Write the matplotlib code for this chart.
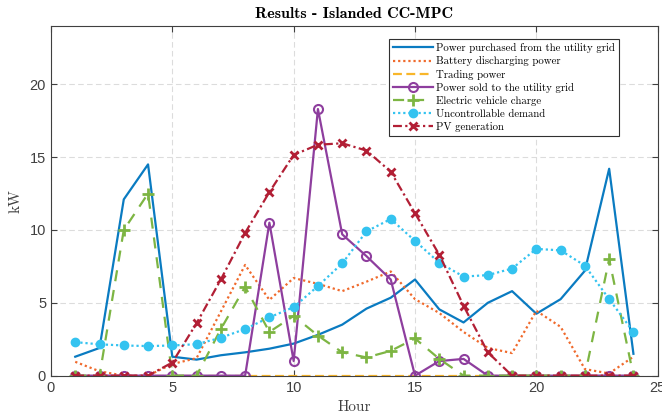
import matplotlib
matplotlib.use("Agg")
import matplotlib.pyplot as plt
import numpy as np

# heures 1..24
hours = list(range(1, 25))

grid_buy = [1.3, 1.9, 12.1, 14.5, 1.3, 1.1, 1.4, 1.6, 1.85, 2.2, 2.8, 3.5,
            4.6, 5.35, 6.6, 4.55, 3.65, 5.0, 5.8, 4.25, 5.25, 7.2, 14.2, 1.5]
battery = [0.95, 0.3, 0.0, 0.0, 0.8, 1.2, 4.4, 7.6, 5.2, 6.7, 6.3, 5.8,
           6.45, 7.15, 5.25, 4.3, 3.0, 1.9, 1.55, 4.45, 3.35, 0.45, 0.15, 1.3]
trading = [0.0] * 24
grid_sell = [0, 0, 0, 0, 0, 0, 0, 0, 10.5, 1.0, 18.3, 9.7,
             8.2, 6.6, 0, 1.0, 1.15, 0, 0, 0, 0, 0, 0, 0]
ev_charge = [0, 0, 10.0, 12.5, 0, 0, 3.2, 6.1, 3.0, 4.1, 2.75, 1.6,
             1.25, 1.7, 2.55, 1.15, 0, 0, 0, 0, 0, 0, 8.0, 0]
demand = [2.3, 2.15, 2.07, 2.03, 2.07, 2.16, 2.6, 3.2, 4.0, 4.7, 6.15, 7.7,
          9.9, 10.75, 9.25, 7.75, 6.8, 6.9, 7.35, 8.7, 8.6, 7.55, 5.25, 3.0]
pv = [0, 0, 0, 0, 0.9, 3.6, 6.6, 9.8, 12.6, 15.15, 15.85, 15.95,
      15.45, 14.0, 11.15, 8.3, 4.8, 1.6, 0, 0, 0, 0, 0, 0]

fig = plt.figure(figsize=(6.62, 4.16), dpi=100)
ax = fig.add_axes([0.077, 0.097, 0.9165, 0.8405])

lw = 1.6
ax.plot(hours, grid_buy, color="#0A7BC1", lw=lw, label="Power purchased from the utility grid")
ax.plot(hours, battery, color="#F06A2C", lw=lw, linestyle=(0, (1, 1.3)), label="Battery discharging power")
ax.plot(hours, trading, color="#F8B62A", lw=lw, linestyle=(0, (4, 2)), label="Trading power")
ax.plot(hours, grid_sell, color="#8E3E9E", lw=lw, marker="o", markersize=6.5,
        markerfacecolor="none", markeredgewidth=1.5, label="Power sold to the utility grid")
ax.plot(hours, ev_charge, color="#7DB543", lw=lw, linestyle=(0, (5, 4)), marker="+",
        markersize=8, markeredgewidth=2, label="Electric vehicle charge")
ax.plot(hours, demand, color="#34C3F0", lw=lw, linestyle=(0, (1, 1.3)), marker="o",
        markersize=6, label="Uncontrollable demand")
ax.plot(hours, pv, color="#B21F35", lw=lw, linestyle=(0, (4, 1.5, 1, 1.5)), marker="x",
        markersize=6, markeredgewidth=2, label="PV generation")

ax.set_xlim(0, 25)
ax.set_ylim(0, 24)
ax.set_xticks([0, 5, 10, 15, 20, 25])
ax.set_yticks([0, 5, 10, 15, 20])
ax.grid(True, linestyle=(0, (5, 3)), color="#DCDCDC", lw=0.8)
ax.set_axisbelow(True)
ax.tick_params(direction="in", top=True, right=True, colors="#404040", labelsize=10.5, length=4)
for lab in ax.get_xticklabels() + ax.get_yticklabels():
    lab.set_fontfamily("Liberation Sans")
for s in ax.spines.values():
    s.set_color("#404040")
    s.set_linewidth(0.8)

ax.set_title("Results - Islanded CC-MPC", fontfamily="cmb10", fontsize=11.5, pad=6)
ax.set_xlabel("Hour", fontfamily="cmr10", fontsize=11, color="#404040", labelpad=4)
ax.set_ylabel("kW", fontfamily="cmr10", fontsize=11, color="#404040", labelpad=5)

leg = ax.legend(loc="upper left", bbox_to_anchor=(0.557, 0.962), prop={"family": "cmr10", "size": 7.8},
                handlelength=3.7, handletextpad=0.3, labelspacing=0.3, borderpad=0.35,
                fancybox=False, framealpha=1, edgecolor="#303030", borderaxespad=0)
leg.get_frame().set_linewidth(0.8)

fig.savefig("out.png", dpi=100)
